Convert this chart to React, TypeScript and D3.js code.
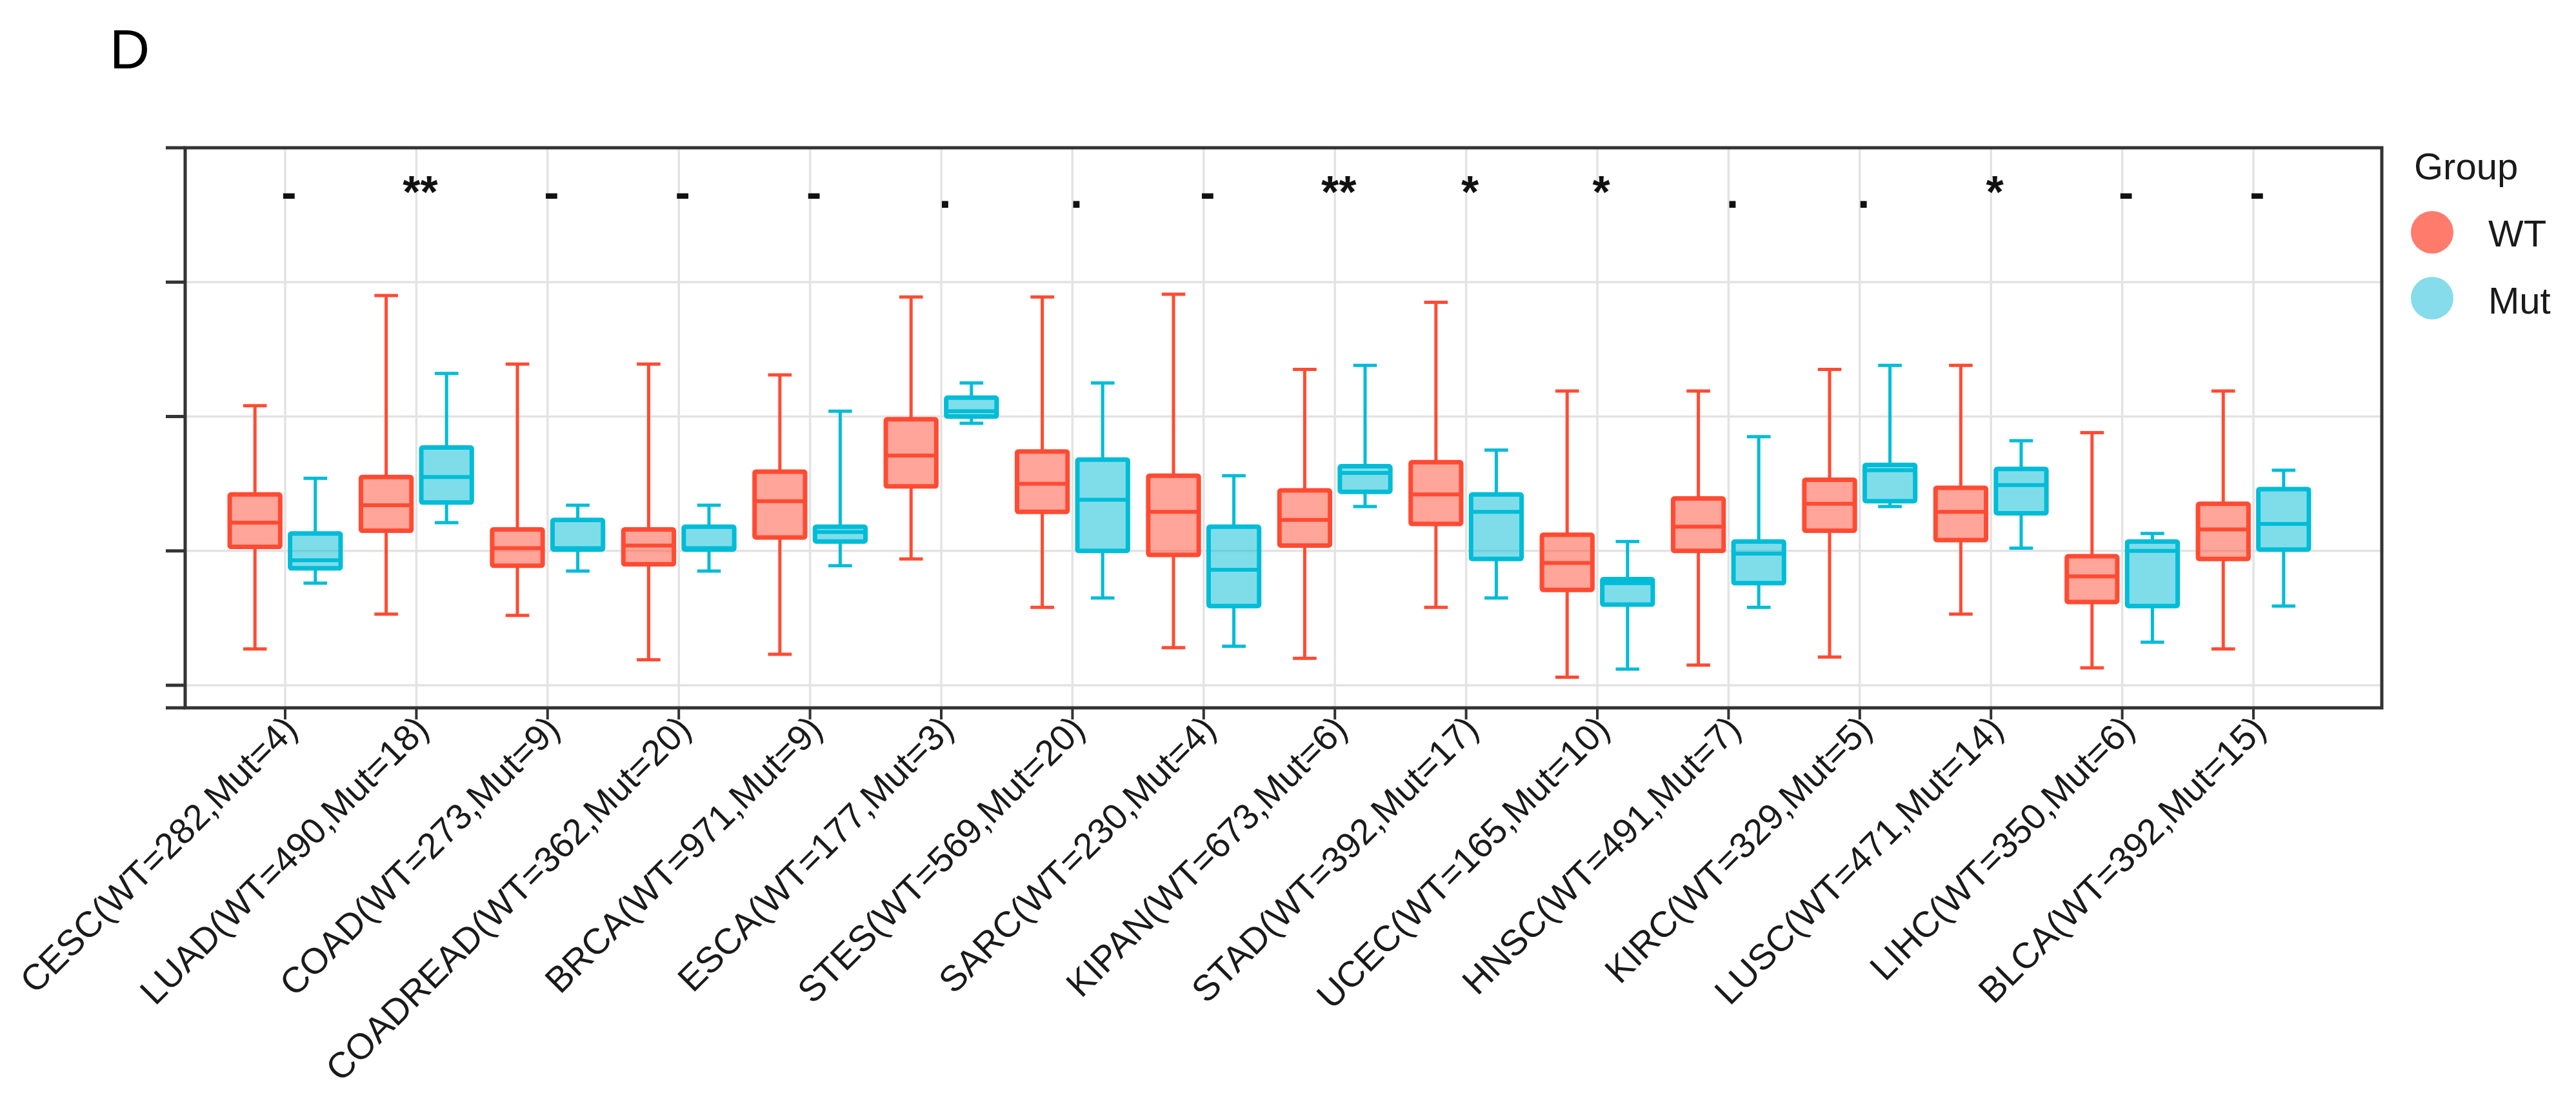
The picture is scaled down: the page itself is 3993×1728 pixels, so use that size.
import React, { useEffect, useRef } from 'react';
import * as d3 from 'd3';

// cancer types, in the order of the x axis
const categories = ['CESC', 'LUAD', 'COAD', 'COADREAD', 'BRCA', 'ESCA', 'STES', 'SARC',
  'KIPAN', 'STAD', 'UCEC', 'HNSC', 'KIRC', 'LUSC', 'LIHC', 'BLCA'];
const wtCounts = [282, 490, 273, 362, 971, 177, 569, 230, 673, 392, 165, 491, 329, 471, 350, 392];
const mutCounts = [4, 18, 9, 20, 9, 3, 20, 4, 6, 17, 10, 7, 5, 14, 6, 15];

// box statistics (y axis has no labels, values in grid units)
const wtMin = [0.27, 0.53, 0.52, 0.19, 0.23, 0.94, 0.58, 0.28, 0.20, 0.58, 0.06, 0.15, 0.21, 0.53, 0.13, 0.27];
const wtQ1 = [1.03, 1.15, 0.89, 0.90, 1.10, 1.48, 1.29, 0.97, 1.04, 1.20, 0.71, 1.00, 1.15, 1.08, 0.62, 0.94];
const wtMed = [1.21, 1.34, 1.02, 1.04, 1.37, 1.71, 1.50, 1.29, 1.23, 1.42, 0.91, 1.18, 1.35, 1.29, 0.81, 1.16];
const wtQ3 = [1.42, 1.55, 1.16, 1.16, 1.59, 1.98, 1.74, 1.56, 1.45, 1.66, 1.12, 1.39, 1.53, 1.47, 0.96, 1.35];
const wtMax = [2.08, 2.90, 2.39, 2.39, 2.31, 2.89, 2.89, 2.91, 2.35, 2.85, 2.19, 2.19, 2.35, 2.38, 1.88, 2.19];

const mutMin = [0.76, 1.21, 0.85, 0.85, 0.89, 1.95, 0.65, 0.29, 1.33, 0.65, 0.12, 0.58, 1.33, 1.02, 0.32, 0.59];
const mutQ1 = [0.87, 1.36, 1.01, 1.01, 1.07, 2.00, 1.00, 0.59, 1.44, 0.94, 0.60, 0.76, 1.37, 1.28, 0.59, 1.01];
const mutMed = [0.93, 1.55, 1.02, 1.02, 1.14, 2.04, 1.38, 0.86, 1.58, 1.29, 0.76, 0.98, 1.60, 1.49, 1.00, 1.20];
const mutQ3 = [1.13, 1.77, 1.23, 1.18, 1.18, 2.14, 1.68, 1.18, 1.63, 1.42, 0.79, 1.07, 1.64, 1.61, 1.07, 1.46];
const mutMax = [1.54, 2.32, 1.34, 1.34, 2.04, 2.25, 2.25, 1.56, 2.38, 1.75, 1.07, 1.85, 2.38, 1.82, 1.13, 1.60];

const signif = ['-', '**', '-', '-', '-', '.', '.', '-', '**', '*', '*', '.', '.', '*', '-', '-'];

const yTicks = [0, 1, 2, 3];
const groups = ['WT', 'Mut'];

const W = 3993;
const H = 1728;
const WT_COLOR = '#FF4B33';
const MUT_COLOR = '#00BCD6';

export default function App() {
  const ref = useRef(null);

  useEffect(() => {
    if (!ref.current) return;
    const svg = d3.select(ref.current);
    svg.selectAll('*').remove();

    const panel = { left: 287, right: 3692, top: 229, bottom: 1097 };
    const font = '"Liberation Sans", Arial, sans-serif';

    const x = d3.scalePoint<string>().domain(categories).range([442, 3493]);
    const step = x.step();
    const y = d3.scaleLinear().domain([-0.168, 4]).range([panel.bottom, panel.top]);

    const boxW = step * 0.385;
    const capW = step * 0.18;
    const offset = step * 0.23;

    // grid
    const grid = svg.append('g').attr('stroke', '#E3E3E3').attr('stroke-width', 3.5);
    grid.selectAll('line.h').data(yTicks).join('line')
      .attr('x1', panel.left).attr('x2', panel.right)
      .attr('y1', d => y(d)).attr('y2', d => y(d));
    grid.selectAll('line.v').data(categories).join('line')
      .attr('x1', d => x(d)!).attr('x2', d => x(d)!)
      .attr('y1', panel.top).attr('y2', panel.bottom);

    const series = [
      { name: 'WT', color: WT_COLOR, dx: -offset, min: wtMin, q1: wtQ1, med: wtMed, q3: wtQ3, max: wtMax },
      { name: 'Mut', color: MUT_COLOR, dx: offset, min: mutMin, q1: mutQ1, med: mutMed, q3: mutQ3, max: mutMax },
    ];

    series.forEach(s => {
      const g = svg.append('g').attr('stroke', s.color);
      categories.forEach((c, i) => {
        const cx = x(c)! + s.dx;
        // whiskers + caps
        g.append('line').attr('x1', cx).attr('x2', cx)
          .attr('y1', y(s.max[i])).attr('y2', y(s.q3[i])).attr('stroke-width', 5);
        g.append('line').attr('x1', cx).attr('x2', cx)
          .attr('y1', y(s.q1[i])).attr('y2', y(s.min[i])).attr('stroke-width', 5);
        [s.max[i], s.min[i]].forEach(v => {
          g.append('line').attr('x1', cx - capW / 2).attr('x2', cx + capW / 2)
            .attr('y1', y(v)).attr('y2', y(v)).attr('stroke-width', 5);
        });
        g.append('rect')
          .attr('x', cx - boxW / 2).attr('width', boxW)
          .attr('y', y(s.q3[i])).attr('height', y(s.q1[i]) - y(s.q3[i]))
          .attr('fill', s.color).attr('fill-opacity', 0.5)
          .attr('stroke-width', 7).attr('rx', 2);
        g.append('line').attr('x1', cx - boxW / 2).attr('x2', cx + boxW / 2)
          .attr('y1', y(s.med[i])).attr('y2', y(s.med[i])).attr('stroke-width', 6);
      });
    });

    // significance marks
    svg.append('g')
      .selectAll('text').data(categories).join('text')
      .attr('x', d => x(d)! + 6).attr('y', 322)
      .attr('text-anchor', 'middle')
      .attr('font-family', font).attr('font-size', 70).attr('font-weight', 'bold').attr('fill', '#111')
      .text((d, i) => signif[i]);

    // panel frame
    const frame = svg.append('g').attr('stroke', '#333').attr('stroke-width', 5).attr('fill', 'none');
    frame.append('rect')
      .attr('x', panel.left).attr('y', panel.top)
      .attr('width', panel.right - panel.left).attr('height', panel.bottom - panel.top);
    // y ticks (no labels)
    frame.selectAll('line.yt').data([...yTicks, 4, -0.168]).join('line')
      .attr('x1', panel.left - 30).attr('x2', panel.left)
      .attr('y1', d => y(d)).attr('y2', d => y(d));
    // x ticks
    frame.selectAll('line.xt').data(categories).join('line')
      .attr('x1', d => x(d)!).attr('x2', d => x(d)!)
      .attr('y1', panel.bottom).attr('y2', panel.bottom + 18)
      .attr('stroke-width', 4);

    // x labels
    svg.append('g')
      .selectAll('text').data(categories).join('text')
      .attr('transform', d => `translate(${x(d)! + 22},${panel.bottom + 36}) rotate(-45)`)
      .attr('text-anchor', 'end')
      .attr('font-family', font).attr('font-size', 56).attr('fill', '#1a1a1a')
      .text((d, i) => `${d}(WT=${wtCounts[i]},Mut=${mutCounts[i]})`);

    // panel letter
    svg.append('text').attr('x', 170).attr('y', 106)
      .attr('font-family', font).attr('font-size', 86).attr('fill', '#000')
      .text('D');

    // legend
    const legendColors = { WT: '#FF7B6B', Mut: '#86DCEA' };
    const lg = svg.append('g').attr('font-family', font).attr('fill', '#1a1a1a');
    lg.append('text').attr('x', 3742).attr('y', 278).attr('font-size', 58).text('Group');
    groups.forEach((gname, i) => {
      lg.append('circle').attr('cx', 3770).attr('cy', 360 + i * 102).attr('r', 33)
        .attr('fill', legendColors[gname as 'WT' | 'Mut']);
      lg.append('text').attr('x', 3857).attr('y', 382 + i * 104).attr('font-size', 58).text(gname);
    });
  }, []);

  return (
    <div style={{ position: 'absolute', left: 0, top: 0, background: '#fff' }}>
      <svg ref={ref} width={W} height={H} style={{ display: 'block' }} />
    </div>
  );
}
